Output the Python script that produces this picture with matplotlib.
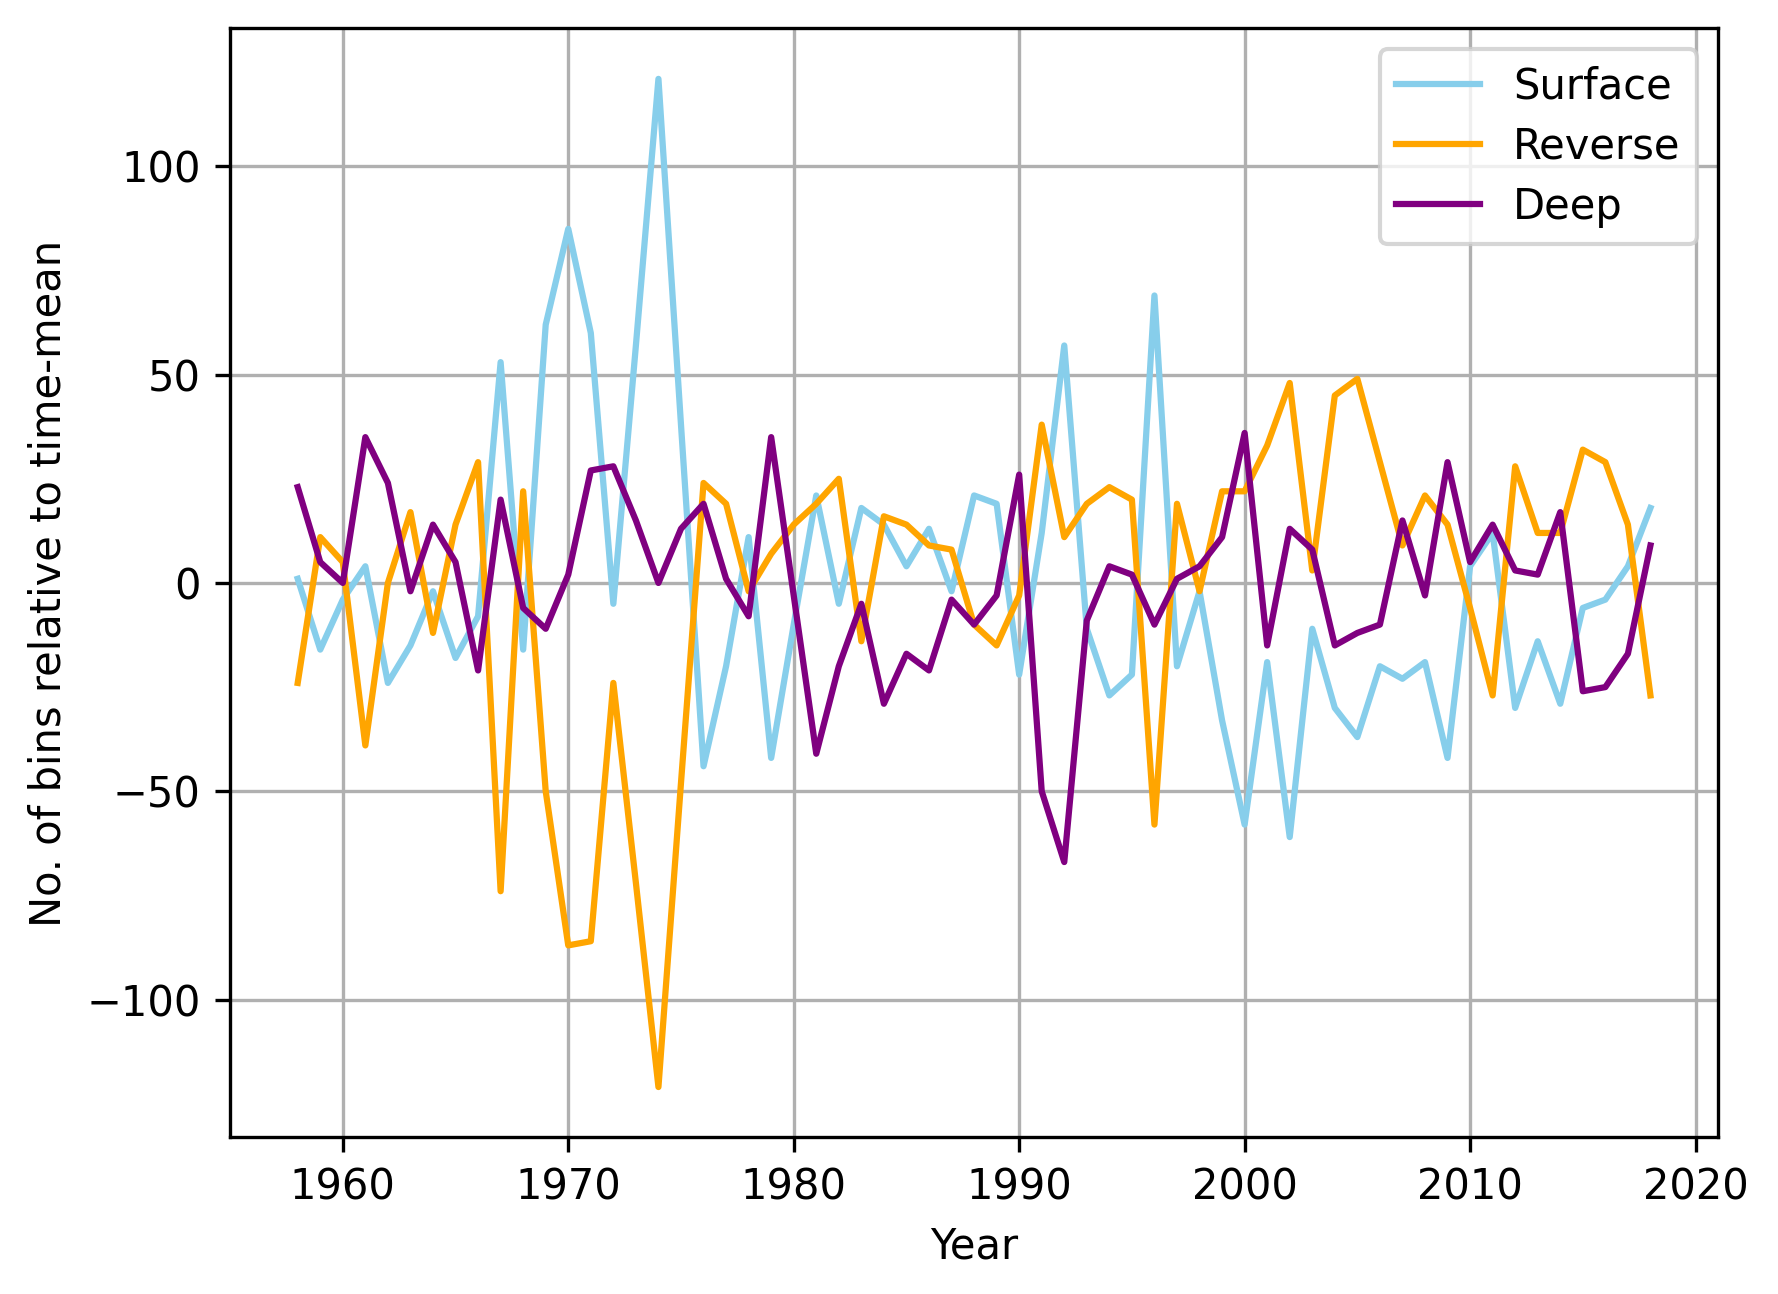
import numpy as np
from matplotlib import pyplot as plt

years = np.arange(1958, 2019)

surface = [1, -16, -4, 4, -24, -15, -2, -18, -8, 53,
           -16, 62, 85, 60, -5, 57, 121, 38, -44, -20,
           11, -42, -10, 21, -5, 18, 14, 4, 13, -2,
           21, 19, -22, 12, 57, -11, -27, -22, 69, -20,
           -2, -33, -58, -19, -61, -11, -30, -37, -20, -23,
           -19, -42, 4, 12, -30, -14, -29, -6, -4, 4,
           18]

reverse = [-24, 11, 5, -39, 0, 17, -12, 14, 29, -74,
           22, -50, -87, -86, -24, -72, -121, -48, 24, 19,
           -2, 7, 14, 19, 25, -14, 16, 14, 9, 8,
           -10, -15, -3, 38, 11, 19, 23, 20, -58, 19,
           -2, 22, 22, 33, 48, 3, 45, 49, 29, 9,
           21, 14, -6, -27, 28, 12, 12, 32, 29, 14,
           -27]

deep = [23, 5, 0, 35, 24, -2, 14, 5, -21, 20,
        -6, -11, 2, 27, 28, 15, 0, 13, 19, 1,
        -8, 35, -3, -41, -20, -5, -29, -17, -21, -4,
        -10, -3, 26, -50, -67, -9, 4, 2, -10, 1,
        4, 11, 36, -15, 13, 8, -15, -12, -10, 15,
        -3, 29, 5, 14, 3, 2, 17, -26, -25, -17,
        9]


def main():
    fig = plt.figure(figsize=(1778 / 300, 1294 / 300), dpi=300)
    fig.subplots_adjust(left=0.1294, right=0.9663, top=0.978, bottom=0.121)
    plt.plot(years, surface, color='skyblue', label='Surface')
    plt.plot(years, reverse, color='orange', label='Reverse')
    plt.plot(years, deep, color='purple', label='Deep')
    plt.grid()
    plt.xlabel('Year')
    plt.ylabel('No. of bins relative to time-mean')
    plt.legend(loc='upper right', labelspacing=0.43)
    plt.savefig('out.png', dpi=300)


if __name__ == '__main__':
    main()
